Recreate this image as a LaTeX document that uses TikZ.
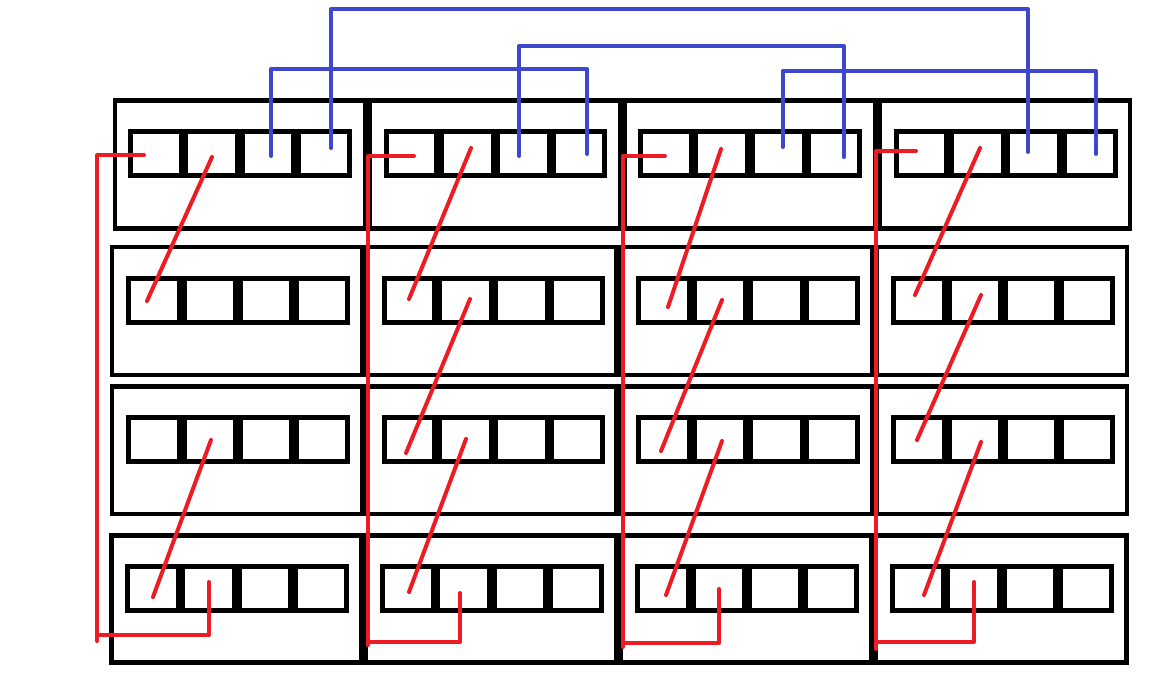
\documentclass[tikz,border=0pt]{standalone}
\usetikzlibrary{fit,calc}
\definecolor{pred}{HTML}{ED1C24}
\definecolor{pblue}{HTML}{3F48CC}
\newcommand\mkbox[6]{\node[outerbox, fit={(#3,#4) (#5,#6)}] (box-#1-#2) {};}
\newcommand\mkrow[6]{\node[cellrow, fit={(#3,#4) (#5,#6)}] (row-#1-#2) {};
  \foreach \f in {0.243,0.5,0.757}
    \draw[divider] ($(row-#1-#2.north west)!\f!(row-#1-#2.north east)$) -- ($(row-#1-#2.south west)!\f!(row-#1-#2.south east)$);}
\begin{document}
\begin{tikzpicture}[x=1pt,y=-1pt,
  outerbox/.style={draw=black, line width=4.5pt, inner sep=0pt, outer sep=0pt},
  cellrow/.style={draw=black, line width=5pt, inner sep=0pt, outer sep=0pt},
  divider/.style={draw=black, line width=9.5pt},
  redwire/.style={draw=pred, line width=4pt, line cap=round, line join=round},
  bluewire/.style={draw=pblue, line width=4pt, line cap=round, line join=round}]
\useasboundingbox (0,0) rectangle (1169,689);
\fill[white] (0,0) rectangle (1169,689);

% outer boxes
\mkbox{1}{1}{115}{100.5}{365.3}{228.5}
\mkbox{1}{2}{369.5}{100.5}{620.2}{228.5}
\mkbox{1}{3}{624.5}{100.5}{875.3}{228.5}
\mkbox{1}{4}{879.5}{100.5}{1130}{228.5}
\mkbox{2}{1}{112}{247}{362.5}{374.8}
\mkbox{2}{2}{366.5}{247}{616}{374.8}
\mkbox{2}{3}{619.5}{247}{872.5}{374.8}
\mkbox{2}{4}{876.5}{247}{1127}{374.8}
\mkbox{3}{1}{112}{386.3}{362.5}{513.8}
\mkbox{3}{2}{366.5}{386.3}{616}{513.8}
\mkbox{3}{3}{619.5}{386.3}{872.5}{513.8}
\mkbox{3}{4}{876.5}{386.3}{1127}{513.8}
\mkbox{4}{1}{111.5}{535.3}{361.5}{662.5}
\mkbox{4}{2}{365.5}{535.3}{616.5}{662.5}
\mkbox{4}{3}{620.5}{535.3}{871.5}{662.5}
\mkbox{4}{4}{875.5}{535.3}{1126.3}{662.5}

% cell rows
\mkrow{1}{1}{130.5}{131.5}{349}{175}
\mkrow{1}{2}{386}{131.5}{604.5}{175}
\mkrow{1}{3}{640.5}{131.5}{859.5}{175}
\mkrow{1}{4}{896}{131.5}{1115}{175}
\mkrow{2}{1}{128.7}{278.3}{347.3}{322.3}
\mkrow{2}{2}{384}{278.3}{602.5}{322.3}
\mkrow{2}{3}{638.7}{278.3}{857.5}{322.3}
\mkrow{2}{4}{893.7}{278.3}{1112.3}{322.3}
\mkrow{3}{1}{128.7}{417.3}{347.3}{461.3}
\mkrow{3}{2}{384}{417.3}{602.5}{461.3}
\mkrow{3}{3}{638.7}{417.3}{857.5}{461.3}
\mkrow{3}{4}{893.7}{417.3}{1112.3}{461.3}
\mkrow{4}{1}{127.6}{566.7}{346.3}{610.2}
\mkrow{4}{2}{382.3}{566.7}{601.4}{610.2}
\mkrow{4}{3}{637.7}{566.7}{856.3}{610.2}
\mkrow{4}{4}{892.5}{566.7}{1111.4}{610.2}

% red wire points
\coordinate (stub-1) at (144,155);  \coordinate (corner-1) at (97,155);  \coordinate (vbot-1) at (97,641);
\coordinate (hst-1) at (97,635);    \coordinate (bend-1) at (209,635);   \coordinate (up-1) at (209,582);
\coordinate (stub-2) at (414,156);  \coordinate (corner-2) at (368,156); \coordinate (vbot-2) at (368,645);
\coordinate (hst-2) at (368,642);   \coordinate (bend-2) at (460,642);   \coordinate (up-2) at (460,593);
\coordinate (stub-3) at (665,156);  \coordinate (corner-3) at (623,156); \coordinate (vbot-3) at (623,647);
\coordinate (hst-3) at (623,643);   \coordinate (bend-3) at (719,643);   \coordinate (up-3) at (719,589);
\coordinate (stub-4) at (916,151);  \coordinate (corner-4) at (876,151); \coordinate (vbot-4) at (876,649);
\coordinate (hst-4) at (876,642);   \coordinate (bend-4) at (974,642);   \coordinate (up-4) at (974,582);

\foreach \c in {1,2,3,4}{
  \draw[redwire] (stub-\c) -- (corner-\c) -- (vbot-\c);
  \draw[redwire] (hst-\c) -- (bend-\c) -- (up-\c);
}

% red diagonals
\coordinate (d1a) at (212,157); \coordinate (d1b) at (147,301);
\coordinate (d2a) at (211,440); \coordinate (d2b) at (153,597);
\coordinate (d3a) at (471,148); \coordinate (d3b) at (409,299);
\coordinate (d4a) at (470,299); \coordinate (d4b) at (406,453);
\coordinate (d5a) at (466,439); \coordinate (d5b) at (409,592);
\coordinate (d6a) at (721,149); \coordinate (d6b) at (668,307);
\coordinate (d7a) at (722,300); \coordinate (d7b) at (661,451);
\coordinate (d8a) at (722,441); \coordinate (d8b) at (666,595);
\coordinate (d9a) at (980,148); \coordinate (d9b) at (915,295);
\coordinate (d10a) at (981,295); \coordinate (d10b) at (917,440);
\coordinate (d11a) at (981,442); \coordinate (d11b) at (924,595);
\foreach \d in {1,...,11}{\draw[redwire] (d\d a) -- (d\d b);}

% blue wires
\coordinate (bA1) at (331,148);   \coordinate (bA2) at (331,9);    \coordinate (bA3) at (1028,9);   \coordinate (bA4) at (1028,152);
\coordinate (bB1) at (519,156);   \coordinate (bB2) at (519,46);   \coordinate (bB3) at (843.5,46); \coordinate (bB4) at (843.5,157);
\coordinate (bC1) at (271,156);   \coordinate (bC2) at (271,69);   \coordinate (bC3) at (587,69);   \coordinate (bC4) at (587,154);
\coordinate (bD1) at (782.5,147); \coordinate (bD2) at (782.5,71); \coordinate (bD3) at (1096,71);  \coordinate (bD4) at (1096,154);
\foreach \b in {A,B,C,D}{\draw[bluewire] (b\b1) -- (b\b2) -- (b\b3) -- (b\b4);}
\end{tikzpicture}
\end{document}
